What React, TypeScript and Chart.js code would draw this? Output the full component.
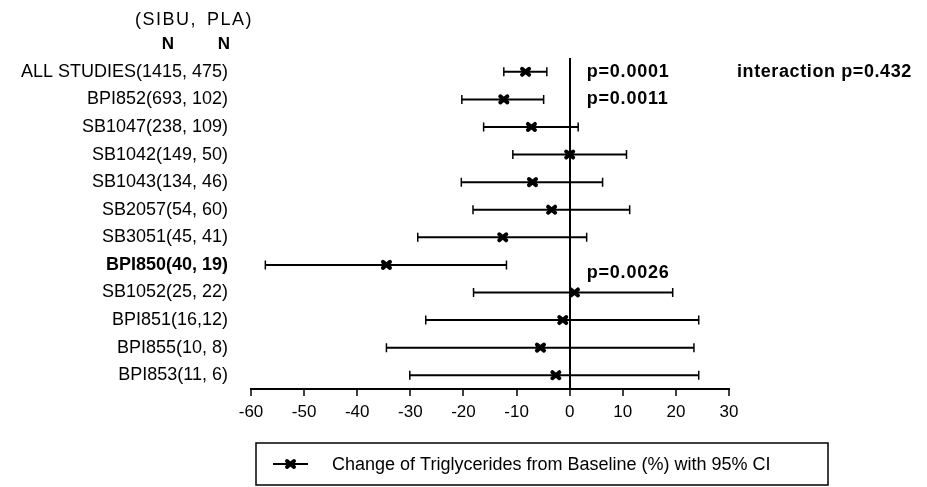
import React, { useEffect, useRef } from "react";
import { Chart, registerables } from "chart.js";

Chart.register(...registerables);

const rowLabels = [
  "ALL STUDIES(1415, 475)",
  "BPI852(693, 102)",
  "SB1047(238, 109)",
  "SB1042(149, 50)",
  "SB1043(134, 46)",
  "SB2057(54, 60)",
  "SB3051(45, 41)",
  "BPI850(40, 19)",
  "SB1052(25, 22)",
  "BPI851(16,12)",
  "BPI855(10, 8)",
  "BPI853(11, 6)",
];
const estimates = [-8.3, -12.4, -7.2, 0, -7.0, -3.4, -12.6, -34.5, 0.9, -1.3, -5.5, -2.6];
const lowerCI = [-12.4, -20.3, -16.2, -10.7, -20.4, -18.2, -28.6, -57.3, -18.1, -27.1, -34.5, -30.1];
const upperCI = [-4.3, -4.9, 1.6, 10.7, 6.2, 11.3, 3.2, -11.9, 19.4, 24.3, 23.4, 24.3];
const boldRow = 7;

const pLabels = ["p=0.0001", "p=0.0011", "p=0.0026"];
const pRows = [0, 1, 7.3];
const interactionLabel = "interaction p=0.432";
const headerGroups = ["(SIBU,", "PLA)"];
const headerN = ["N", "N"];
const seriesLabel = "Change of Triglycerides from Baseline (%) with 95% CI";

const FONT = "'Liberation Sans', Arial, Helvetica, sans-serif";

function drawMarker(ctx: CanvasRenderingContext2D, cx: number, cy: number) {
  ctx.save();
  ctx.strokeStyle = "#000";
  ctx.lineWidth = 4;
  ctx.lineCap = "round";
  ctx.beginPath();
  ctx.moveTo(cx - 3.5, cy - 3);
  ctx.lineTo(cx + 3.5, cy + 3);
  ctx.moveTo(cx + 3.5, cy - 3);
  ctx.lineTo(cx - 3.5, cy + 3);
  ctx.stroke();
  ctx.restore();
}

const forestPlugin = {
  id: "forest",
  beforeDatasetsDraw(chart: any) {
    const { ctx, scales } = chart;
    const x = scales.x;
    const y = scales.y;
    ctx.save();
    ctx.strokeStyle = "#000";
    for (let i = 0; i < rowLabels.length; i++) {
      const yp = y.getPixelForValue(i);
      const xl = x.getPixelForValue(lowerCI[i]);
      const xh = x.getPixelForValue(upperCI[i]);
      ctx.lineWidth = 2;
      ctx.beginPath();
      ctx.moveTo(xl, yp);
      ctx.lineTo(xh, yp);
      ctx.stroke();
      ctx.lineWidth = 1.5;
      ctx.beginPath();
      ctx.moveTo(xl, yp - 4.5);
      ctx.lineTo(xl, yp + 4.5);
      ctx.moveTo(xh, yp - 4.5);
      ctx.lineTo(xh, yp + 4.5);
      ctx.stroke();
    }
    ctx.restore();
  },
  afterDatasetsDraw(chart: any) {
    const { ctx, scales } = chart;
    const x = scales.x;
    const y = scales.y;
    for (let i = 0; i < estimates.length; i++) {
      drawMarker(ctx, x.getPixelForValue(estimates[i]), y.getPixelForValue(i));
    }
  },
  afterDraw(chart: any) {
    const { ctx, scales } = chart;
    const x = scales.x;
    const y = scales.y;
    ctx.save();
    ctx.fillStyle = "#000";
    ctx.textBaseline = "middle";
    // p-values
    ctx.font = `bold 18px ${FONT}`;
    (ctx as any).letterSpacing = "0.8px";
    ctx.textAlign = "left";
    const px = x.getPixelForValue(3.2);
    pLabels.forEach((t, i) => {
      const r = pRows[i];
      const base = Math.floor(r);
      const frac = r - base;
      const y0 = y.getPixelForValue(base);
      const y1 = y.getPixelForValue(Math.min(base + 1, rowLabels.length - 1));
      ctx.fillText(t, px, y0 + (y1 - y0) * frac);
    });
    (ctx as any).letterSpacing = "0.6px";
    ctx.fillText(interactionLabel, x.getPixelForValue(31.5), y.getPixelForValue(0));
    // header
    (ctx as any).letterSpacing = "1.5px";
    ctx.font = `18px ${FONT}`;
    ctx.fillText(headerGroups[0], 135, 20);
    ctx.fillText(headerGroups[1], 207, 20);
    (ctx as any).letterSpacing = "0px";
    ctx.font = `bold 17px ${FONT}`;
    ctx.textAlign = "center";
    ctx.fillText(headerN[0], 168, 44);
    ctx.fillText(headerN[1], 224, 44);
    // legend box
    const bx = 256, by = 443, bw = 572, bh = 42;
    ctx.lineWidth = 1.5;
    ctx.strokeStyle = "#000";
    ctx.strokeRect(bx, by, bw, bh);
    const ly = by + bh / 2;
    ctx.lineWidth = 2;
    ctx.beginPath();
    ctx.moveTo(bx + 17, ly);
    ctx.lineTo(bx + 52, ly);
    ctx.stroke();
    drawMarker(ctx, bx + 34.5, ly);
    ctx.textAlign = "left";
    ctx.font = `18px ${FONT}`;
    ctx.fillText(chart.data.datasets[0].label, bx + 76, ly + 1);
    ctx.restore();
  },
};

export default function App() {
  const ref = useRef<HTMLCanvasElement>(null);
  useEffect(() => {
    document.body.style.margin = "0";
    const canvas = ref.current!;
    const chart = new Chart(canvas, {
      type: "scatter",
      data: {
        labels: rowLabels,
        datasets: [
          {
            label: seriesLabel,
            data: estimates.map((v, i) => ({ x: v, y: rowLabels[i] })) as any,
            pointStyle: "crossRot",
            radius: 0,
            borderWidth: 0,
            borderColor: "#000",
            backgroundColor: "#000",
          },
        ],
      },
      options: {
        responsive: false,
        animation: false,
        layout: { padding: { left: 0, right: 198, top: 58, bottom: 0 } },
        plugins: { legend: { display: false }, tooltip: { enabled: false } },
        scales: {
          x: {
            type: "linear",
            min: -60,
            max: 30,
            ticks: {
              stepSize: 10,
              color: "#000",
              font: { family: FONT, size: 17 },
              padding: 6,
            },
            grid: {
              color: (c: any) => (c.tick && c.tick.value === 0 ? "#000" : "rgba(0,0,0,0)"),
              lineWidth: 2,
              tickColor: "#000",
              tickLength: 7,
              tickWidth: 1.5,
            },
            border: { display: true, color: "#000", width: 2 },
            afterFit: (s: any) => {
              s.height = 98;
            },
          },
          y: {
            type: "category",
            labels: rowLabels,
            offset: true,
            ticks: {
              color: "#000",
              padding: 23,
              autoSkip: false,
              font: (c: any) => ({
                family: FONT,
                size: 18,
                weight: c.index === boldRow ? "bold" : "normal",
              }),
            },
            grid: { display: false, drawTicks: false },
            border: { display: false },
            afterFit: (s: any) => {
              s.width = 251;
            },
          },
        },
      },
      plugins: [forestPlugin],
    });
    return () => chart.destroy();
  }, []);
  return (
    <div style={{ width: 927, height: 487, background: "#fff" }}>
      <canvas ref={ref} width={927} height={487} />
    </div>
  );
}
